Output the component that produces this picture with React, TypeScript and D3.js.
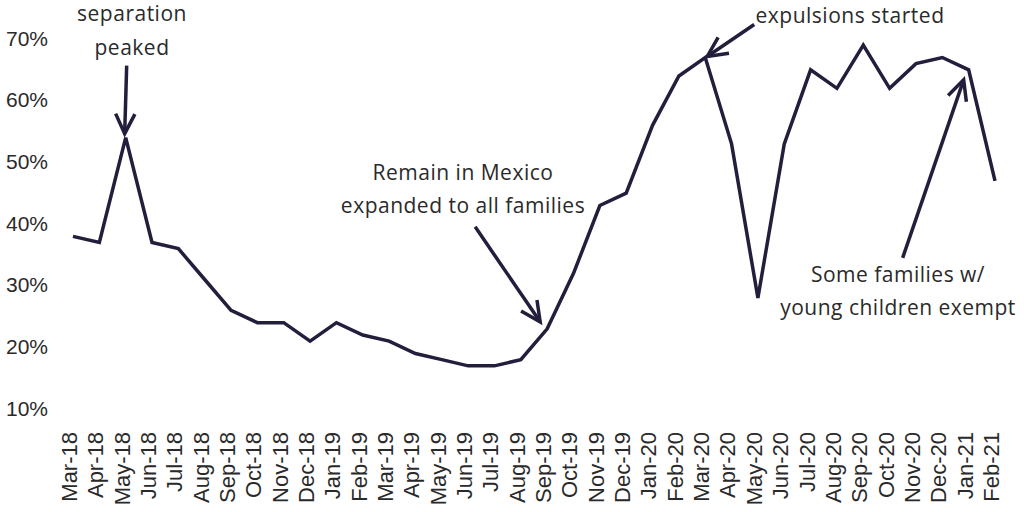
import React, { useEffect, useRef } from 'react';
import * as d3 from 'd3';

const months = [
  'Mar-18', 'Apr-18', 'May-18', 'Jun-18', 'Jul-18', 'Aug-18', 'Sep-18', 'Oct-18', 'Nov-18', 'Dec-18',
  'Jan-19', 'Feb-19', 'Mar-19', 'Apr-19', 'May-19', 'Jun-19', 'Jul-19', 'Aug-19', 'Sep-19', 'Oct-19',
  'Nov-19', 'Dec-19', 'Jan-20', 'Feb-20', 'Mar-20', 'Apr-20', 'May-20', 'Jun-20', 'Jul-20', 'Aug-20',
  'Sep-20', 'Oct-20', 'Nov-20', 'Dec-20', 'Jan-21', 'Feb-21',
];
const shares = [
  38, 37, 54, 37, 36, 31, 26, 24, 24, 21,
  24, 22, 21, 19, 18, 17, 17, 18, 23, 32,
  43, 45, 56, 64, 67, 53, 28, 53, 65, 62,
  69, 62, 66, 67, 65, 47,
];
const yTicks = [10, 20, 30, 40, 50, 60, 70];

// notes: anchor month and text lines
const noteMonths = ['May-18', 'Mar-20', 'Sep-19', 'Jan-21'];
const noteLines = [
  ['separation', 'peaked'],
  ['expulsions started'],
  ['Remain in Mexico', 'expanded to all families'],
  ['Some families w/', 'young children exempt'],
];

const W = 1024;
const H = 512;
const INK = '#221e3c';
const TEXT = '#2a2a2a';

const App: React.FC = () => {
  const svgRef = useRef<SVGSVGElement>(null);

  useEffect(() => {
    if (!svgRef.current) return;
    const svg = d3.select(svgRef.current);
    svg.selectAll('*').remove();

    const x = d3.scalePoint<string>().domain(months).range([73, 995]);
    const y = d3.scaleLinear().domain([10, 70]).range([409, 39]);

    // y labels
    svg.append('g')
      .selectAll('text')
      .data(yTicks)
      .enter()
      .append('text')
      .attr('x', 48)
      .attr('y', d => y(d) - 1)
      .attr('dy', '0.36em')
      .attr('text-anchor', 'end')
      .attr('font-family', '"Liberation Sans", Arial, sans-serif')
      .attr('font-size', 21)
      .attr('fill', TEXT)
      .text(d => `${d}%`);

    // x labels, rotated
    svg.append('g')
      .selectAll('text')
      .data(months)
      .enter()
      .append('text')
      .attr('transform', d => `translate(${(x(d) as number) - 4},432) rotate(-90)`)
      .attr('dy', '0.36em')
      .attr('text-anchor', 'end')
      .attr('font-family', '"Liberation Sans", Arial, sans-serif')
      .attr('font-size', 22)
      .attr('fill', TEXT)
      .text(d => d);

    const line = d3.line<number>()
      .x((_, i) => x(months[i]) as number)
      .y(d => y(d));

    svg.append('path')
      .datum(shares)
      .attr('d', line)
      .attr('fill', 'none')
      .attr('stroke', INK)
      .attr('stroke-width', 3.5)
      .attr('stroke-linejoin', 'miter');

    // annotations: arrow tip offset from the point, tail offset from the tip
    const tipOffsets: [number, number][] = [[-1, -4], [2, -1], [-7, -7], [-5, 10]];
    const tails: [number, number][] = [[2, -68], [47, -32], [-65, -95], [-61, 178]];
    const textPos: [number, number][] = [[132, 21], [850, 23], [463, 180], [898, 282]];
    const lineGap = [34, 0, 33, 33];

    noteMonths.forEach((m, k) => {
      const idx = months.indexOf(m);
      const tx = (x(m) as number) + tipOffsets[k][0];
      const ty = y(shares[idx]) + tipOffsets[k][1];
      const ex = tx + tails[k][0];
      const ey = ty + tails[k][1];
      const ang = Math.atan2(ey - ty, ex - tx);
      const len = 22;
      const spread = (26 * Math.PI) / 180;
      const w1 = [tx + len * Math.cos(ang - spread), ty + len * Math.sin(ang - spread)];
      const w2 = [tx + len * Math.cos(ang + spread), ty + len * Math.sin(ang + spread)];

      const g = svg.append('g');
      g.append('line')
        .attr('x1', ex).attr('y1', ey)
        .attr('x2', tx).attr('y2', ty)
        .attr('stroke', INK)
        .attr('stroke-width', 3.5);
      g.append('path')
        .attr('d', `M${w1[0]},${w1[1]}L${tx},${ty}L${w2[0]},${w2[1]}`)
        .attr('fill', 'none')
        .attr('stroke', INK)
        .attr('stroke-width', 3.5);

      noteLines[k].forEach((t, j) => {
        g.append('text')
          .attr('x', textPos[k][0])
          .attr('y', textPos[k][1] + j * lineGap[k])
          .attr('text-anchor', 'middle')
          .attr('font-family', '"Open Sans", sans-serif')
          .attr('font-size', 21)
          .attr('letter-spacing', 0.5)
          .attr('fill', TEXT)
          .text(t);
      });
    });
  }, []);

  return (
    <svg
      ref={svgRef}
      width={W}
      height={H}
      style={{ position: 'absolute', left: 0, top: 0, background: '#fff' }}
    />
  );
};

export default App;
